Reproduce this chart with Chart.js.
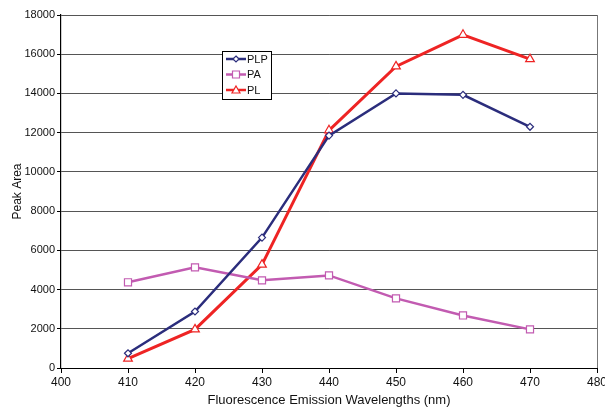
<!DOCTYPE html>
<html>
<head>
<meta charset="utf-8">
<script src="https://cdn.jsdelivr.net/npm/chart.js@4/dist/chart.umd.min.js"></script>
<style>
  html, body { margin: 0; padding: 0; background: #fff; }
  #wrap { width: 605px; height: 408px; }
</style>
</head>
<body>
<div id="wrap"><canvas id="chart" width="605" height="408"></canvas></div>
<script>
const wavelengths = [410, 420, 430, 440, 450, 460, 470];
const plp = [750, 2880, 6650, 11850, 14000, 13930, 12300];
const pa = [4370, 5130, 4470, 4720, 3550, 2680, 1970];
const pl = [480, 1970, 5270, 12120, 15380, 16990, 15750];
const xTicks = [400, 410, 420, 430, 440, 450, 460, 470, 480];
const yTicks = [0, 2000, 4000, 6000, 8000, 10000, 12000, 14000, 16000, 18000];

const font = "'Liberation Sans', Arial, sans-serif";
Chart.defaults.font.family = font;
Chart.defaults.color = "#111";

const toPoints = (vals) => vals.map((v, i) => ({ x: wavelengths[i], y: v }));

// small boxed legend inside the plot, like the original
const boxLegend = {
  id: "boxLegend",
  afterDraw(chart) {
    const c = chart.ctx;
    const x0 = 222, y0 = 51, w = 49, h = 48;
    c.save();
    c.fillStyle = "#fff";
    c.fillRect(x0, y0, w, h);
    c.strokeStyle = "#000";
    c.lineWidth = 1;
    c.strokeRect(x0 + 0.5, y0 + 0.5, w, h);
    chart.data.datasets.forEach((ds, i) => {
      const y = y0 + 8 + i * 15.5;
      c.strokeStyle = ds.borderColor;
      c.lineWidth = 2.5;
      c.beginPath();
      c.moveTo(x0 + 4, y);
      c.lineTo(x0 + 24, y);
      c.stroke();
      c.fillStyle = "#fff";
      c.lineWidth = 1.2;
      c.beginPath();
      if (ds.pointStyle === "rectRot") {
        c.moveTo(x0 + 14, y - 3); c.lineTo(x0 + 17, y); c.lineTo(x0 + 14, y + 3); c.lineTo(x0 + 11, y); c.closePath();
      } else if (ds.pointStyle === "rect") {
        c.rect(x0 + 10.5, y - 3.5, 7, 7);
      } else {
        c.moveTo(x0 + 14, y - 4); c.lineTo(x0 + 18, y + 3); c.lineTo(x0 + 10, y + 3); c.closePath();
      }
      c.fill();
      c.stroke();
      c.fillStyle = "#111";
      c.font = "11px " + font;
      c.textBaseline = "middle";
      c.fillText(ds.label, x0 + 25, y + 0.5);
    });
    c.restore();
  }
};

const frame = {
  id: "frame",
  beforeDatasetsDraw(chart) {
    const a = chart.chartArea, c = chart.ctx;
    c.save();
    c.strokeStyle = "#777";
    c.lineWidth = 1;
    c.beginPath();
    c.moveTo(Math.round(a.right) + 0.5, a.top);
    c.lineTo(Math.round(a.right) + 0.5, a.bottom);
    c.stroke();
    c.restore();
  }
};

new Chart(document.getElementById("chart"), {
  type: "line",
  data: {
    datasets: [
      { label: "PLP", data: toPoints(plp), borderColor: "#2b2d7c", backgroundColor: "#fff",
        borderWidth: 2.5, pointStyle: "rectRot", pointRadius: 3.5, pointBorderWidth: 1.2 },
      { label: "PA", data: toPoints(pa), borderColor: "#c25bb1", backgroundColor: "#fff",
        borderWidth: 2.5, pointStyle: "rect", pointRadius: 5, pointBorderWidth: 1.2 },
      { label: "PL", data: toPoints(pl), borderColor: "#ee2424", backgroundColor: "#fff",
        borderWidth: 3, pointStyle: "triangle", pointRadius: 5, pointBorderWidth: 1.2 }
    ]
  },
  options: {
    responsive: false,
    animation: false,
    layout: { padding: { top: 15, right: 8, left: 10, bottom: 0 } },
    plugins: { legend: { display: false }, tooltip: { enabled: false } },
    scales: {
      x: {
        type: "linear", min: 400, max: 480,
        afterBuildTicks: (s) => { s.ticks = xTicks.map(v => ({ value: v })); },
        ticks: { font: { size: 12 }, padding: 2, maxRotation: 0, callback: (v) => String(v) },
        grid: { drawOnChartArea: false, tickLength: 5, tickColor: "#000" },
        border: { color: "#000", width: 1 },
        title: { display: true, text: "Fluorescence Emission Wavelengths (nm)", font: { size: 13 }, padding: { top: 5, bottom: 0 } },
        afterFit: (s) => { s.height = 40; s.paddingRight = 0; }
      },
      y: {
        min: 0, max: 18000,
        afterBuildTicks: (s) => { s.ticks = yTicks.map(v => ({ value: v })); },
        ticks: { font: { size: 11 }, padding: 2, callback: (v) => String(v) },
        grid: { color: "#555", lineWidth: 1, tickLength: 4, tickColor: "#000" },
        border: { color: "#000", width: 1.2 },
        title: { display: true, text: "Peak Area", font: { size: 12 }, padding: { top: 0, bottom: 0 } },
        afterFit: (s) => { s.width = 51; }
      }
    }
  },
  plugins: [frame, boxLegend]
});
</script>
</body>
</html>
